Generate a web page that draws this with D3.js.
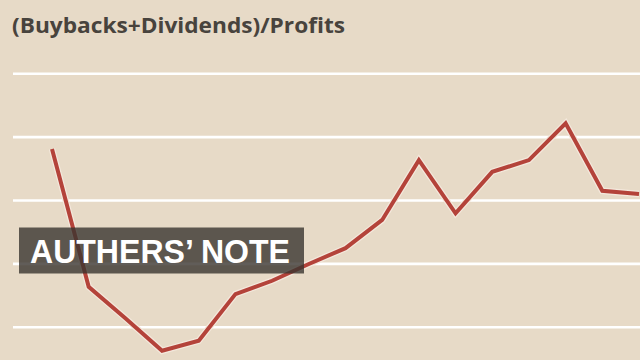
<!DOCTYPE html>
<html>
<head>
<meta charset="utf-8">
<script src="https://cdn.jsdelivr.net/npm/d3@7"></script>
<style>
  body { margin: 0; background: #e7dac7; }
  svg { display: block; }
</style>
</head>
<body>
<div id="chart"></div>
<script>
// payout ratio, one point per year
var years = [1998,1999,2000,2001,2002,2003,2004,2005,2006,2007,2008,2009,2010,2011,2012,2013,2014];
var ratio = [0.961,0.526,0.427,0.324,0.356,0.503,0.545,0.598,0.648,0.737,0.926,0.758,0.889,0.926,1.042,0.829,0.819];
var grid_ticks = [0.4,0.6,0.8,1.0,1.2];
var title_text = "(Buybacks+Dividends)/Profits";
var note_text = "AUTHERS\u2019 NOTE";

var W = 640, H = 360;
var svg = d3.select("#chart").append("svg")
            .attr("width", W)
            .attr("height", H);

svg.append("rect").attr("width", W).attr("height", H).attr("fill", "#e7dac7");

var x = d3.scalePoint()
          .domain(years)
          .range([52, 639]);

var y = d3.scaleLinear()
          .domain([0.4, 1.2])
          .range([326.7, 73.3]);

// gridlines
var grid = svg.append("g")
              .attr("transform", "translate(13,0)")
              .call(d3.axisLeft(y).tickValues(grid_ticks).tickSize(-(W - 13)).tickFormat(""));
grid.select(".domain").remove();
grid.selectAll(".tick line").attr("stroke", "#ffffff").attr("stroke-width", 2.6);

svg.append("text")
   .attr("x", 12)
   .attr("y", 33)
   .attr("font-family", "Open Sans, sans-serif")
   .attr("font-weight", "bold")
   .attr("font-size", 22)
   .attr("fill", "#48433d")
   .attr("textLength", 333)
   .attr("lengthAdjust", "spacingAndGlyphs")
   .text(title_text);

var line = d3.line()
             .x(function(d, i){ return x(years[i]); })
             .y(function(d){ return y(d); });

// light halo under the line
svg.append("path")
   .datum(ratio)
   .attr("d", line)
   .attr("fill", "none")
   .attr("stroke", "#f4e8dc")
   .attr("stroke-width", 6.5)
   .attr("stroke-linejoin", "miter");

svg.append("path")
   .datum(ratio)
   .attr("d", line)
   .attr("fill", "none")
   .attr("stroke", "#b4433a")
   .attr("stroke-width", 4)
   .attr("stroke-linejoin", "miter");

// note badge
svg.append("rect")
   .attr("x", 19)
   .attr("y", 227.5)
   .attr("width", 285)
   .attr("height", 46)
   .attr("fill", "rgba(58,53,48,0.8)");

svg.append("text")
   .attr("x", 30)
   .attr("y", 263)
   .attr("font-family", "Liberation Sans, Arial, sans-serif")
   .attr("font-weight", "bold")
   .attr("font-size", 33)
   .attr("fill", "#ffffff")
   .attr("textLength", 260)
   .attr("lengthAdjust", "spacingAndGlyphs")
   .text(note_text);
</script>
</body>
</html>
